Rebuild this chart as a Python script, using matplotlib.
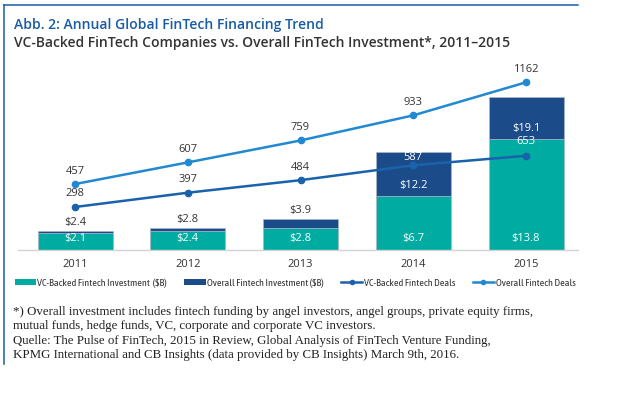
import matplotlib
matplotlib.use("Agg")
import matplotlib.pyplot as plt
from matplotlib.lines import Line2D
from matplotlib.patches import Patch
from matplotlib import font_manager

# Daten
years = ["2011", "2012", "2013", "2014", "2015"]
vc_invest = [2.1, 2.4, 2.8, 6.7, 13.8]        # VC-Backed Fintech Investment ($B)
overall_invest = [2.4, 2.8, 3.9, 12.2, 19.1]  # Overall Fintech Investment ($B)
vc_deals = [298, 397, 484, 587, 653]
overall_deals = [457, 607, 759, 933, 1162]

# Farben
teal = "#00aba1"
navy = "#1b4c89"
c_vc_line = "#1b62ad"
c_all_line = "#2189d1"
border = "#1a5ca3"
txt = "#333333"

# schmale Schrift fuer die Legende suchen
narrow_fp = None
for key in ["SansNarrow-Regular", "Condensed-Regular", "SansCondensed.ttf", "Condensed"]:
    for f in font_manager.fontManager.ttflist:
        if key in f.fname and "Bold" not in f.fname and "Italic" not in f.fname:
            narrow_fp = font_manager.FontProperties(fname=f.fname, size=7.3)
            break
    if narrow_fp is not None:
        break
if narrow_fp is None:
    narrow_fp = font_manager.FontProperties(family="DejaVu Sans", size=5.6)

sans = "Open Sans"

W, H = 626, 393
fig = plt.figure(figsize=(W / 100, H / 100), dpi=100)

def fx(px):
    return px / W

def fy(py):
    return 1 - py / H

# Rahmen oben und links
fig.add_artist(Line2D([fx(4), fx(578)], [fy(5), fy(5)], color=border, lw=1.1))
fig.add_artist(Line2D([fx(4), fx(4)], [fy(5), fy(364)], color=border, lw=1.1))

# Titel
fig.text(fx(14), fy(25), "Abb. 2: Annual Global FinTech Financing Trend",
         color=border, fontsize=10.1, family=sans, weight="semibold", va="center")
fig.text(fx(14), fy(43), "VC-Backed FinTech Companies vs. Overall FinTech Investment*, 2011\u20132015",
         color=txt, fontsize=10, family=sans, weight="semibold", va="center")

# Achsen
ax = fig.add_axes([fx(18), fy(250), fx(560), (250 - 70) / H])
x = list(range(len(years)))
step = 112.75
ax.set_xlim(-57 / step, 4 + 52 / step)
ax.set_ylim(0, 180 / 8.03)

bw = 75 / step
upper = [o - v for o, v in zip(overall_invest, vc_invest)]
ax.bar(x, vc_invest, width=bw, color=teal, edgecolor="#a9b6c8", linewidth=0.5)
ax.bar(x, upper, bottom=vc_invest, width=bw, color=navy, edgecolor="#a9b6c8", linewidth=0.5)

fs = 8
for i in x:
    ax.annotate(f"${vc_invest[i]}", (i, 0), xytext=(0, 11 * 0.72), textcoords="offset points",
                ha="center", va="center", color="white", fontsize=fs, family=sans)
    if upper[i] > 3:
        ax.annotate(f"${overall_invest[i]}", (i, vc_invest[i]), xytext=(0, 10.5 * 0.72),
                    textcoords="offset points", ha="center", va="center",
                    color="white", fontsize=fs, family=sans)
    else:
        ax.annotate(f"${overall_invest[i]}", (i, overall_invest[i]), xytext=(0, 8.5 * 0.72),
                    textcoords="offset points", ha="center", va="center",
                    color=txt, fontsize=fs, family=sans)

for s in ["top", "right", "left"]:
    ax.spines[s].set_visible(False)
ax.spines["bottom"].set_color("#d4d4d4")
ax.spines["bottom"].set_linewidth(1.0)
ax.set_yticks([])
ax.set_xticks(x)
ax.set_xticklabels(years, fontsize=fs, color=txt, family=sans)
ax.tick_params(axis="x", length=0, pad=6.5)

# Linien (Deals)
ax2 = ax.twinx()
ax2.set_ylim(0, 180 / 0.1443)
ax2.axis("off")
ax2.plot(x, overall_deals, color=c_all_line, lw=1.8, marker="o", ms=4.5)
ax2.plot(x, vc_deals, color=c_vc_line, lw=1.8, marker="o", ms=4.5)

vc_off = [13, 13, 13, 8, 14]
for i in x:
    ax2.annotate(str(overall_deals[i]), (i, overall_deals[i]), xytext=(0, 13 * 0.72),
                 textcoords="offset points", ha="center", va="center",
                 color=txt, fontsize=fs, family=sans)
    inside = vc_deals[i] * 0.1443 < overall_invest[i] * 8.03
    ax2.annotate(str(vc_deals[i]), (i, vc_deals[i]), xytext=(0, vc_off[i] * 0.72),
                 textcoords="offset points", ha="center", va="center",
                 color="white" if inside else txt, fontsize=fs, family=sans)

# Legende
handles = [
    Patch(facecolor=teal, edgecolor="none"),
    Patch(facecolor=navy, edgecolor="none"),
    Line2D([], [], color=c_vc_line, lw=1.8, marker="o", ms=3),
    Line2D([], [], color=c_all_line, lw=1.8, marker="o", ms=3),
]
labels = ["VC-Backed Fintech Investment  ($B)", "Overall Fintech Investment ($B)",
          "VC-Backed Fintech Deals", "Overall Fintech Deals"]
fig.legend(handles, labels, loc="center", bbox_to_anchor=(fx(295), fy(283)), ncol=4,
           frameon=False, prop=narrow_fp, handlelength=2.1,
           handleheight=0.55, handletextpad=0.15, columnspacing=1.7, labelcolor=txt,
           borderaxespad=0, borderpad=0)

# Fussnote
notes = [
    "*) Overall investment includes fintech funding by angel investors, angel groups, private equity firms,",
    "mutual funds, hedge funds, VC, corporate and corporate VC investors.",
    "Quelle: The Pulse of FinTech, 2015 in Review, Global Analysis of FinTech Venture Funding,",
    "KPMG International and CB Insights (data provided by CB Insights) March 9th, 2016.",
]
for k, line in enumerate(notes):
    fig.text(fx(13), fy(312 + k * 14.4), line, family="Liberation Serif", fontsize=9.3,
             color="#222222", va="center")

fig.savefig("out.png", dpi=100)
